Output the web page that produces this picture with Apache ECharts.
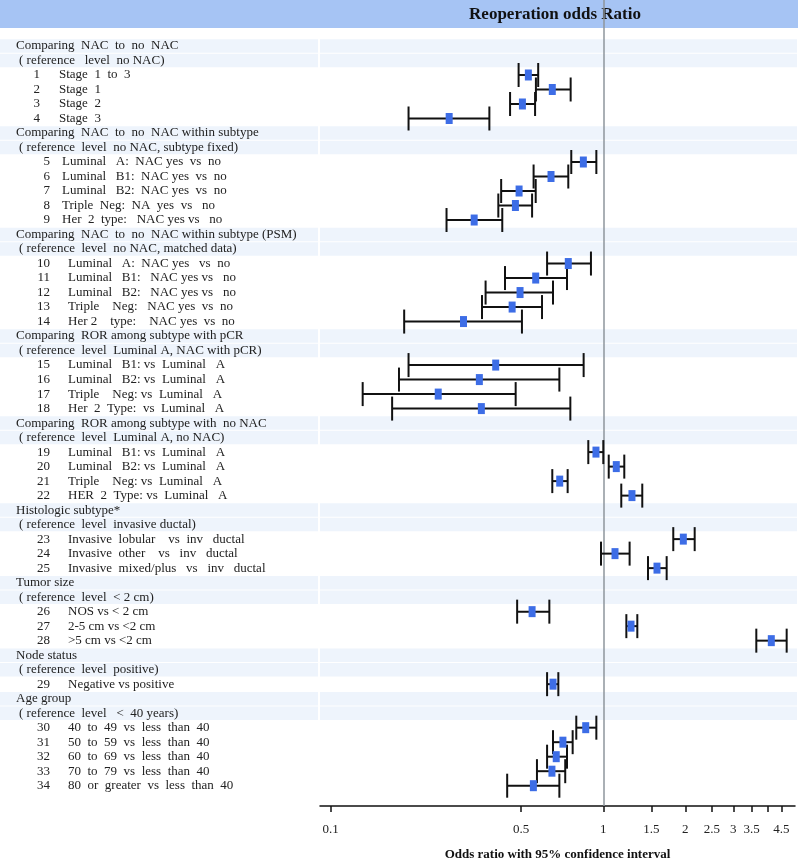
<!DOCTYPE html>
<html>
<head>
<meta charset="utf-8">
<script src="https://cdn.jsdelivr.net/npm/echarts@6/dist/echarts.min.js"></script>
<style>html,body{margin:0;padding:0;background:#fff}#c{width:798px;height:862px}</style>
</head>
<body>
<div id="c"></div>
<script>
const chartTitle = 'Reoperation odds Ratio';
const axisTitle = 'Odds ratio with 95% confidence interval';

const sectionTitles = [
  'Comparing  NAC  to  no  NAC',
  'Comparing  NAC  to  no  NAC within subtype',
  'Comparing  NAC  to  no  NAC within subtype (PSM)',
  'Comparing  ROR among subtype with pCR',
  'Comparing  ROR among subtype with  no NAC',
  'Histologic subtype*',
  'Tumor size',
  'Node status',
  'Age group'
];
const sectionRefs = [
  '( reference   level  no NAC)',
  '( reference  level  no NAC, subtype fixed)',
  '( reference  level  no NAC, matched data)',
  '( reference  level  Luminal A, NAC with pCR)',
  '( reference  level  Luminal A, no NAC)',
  '( reference  level  invasive ductal)',
  '( reference  level  < 2 cm)',
  '( reference  level  positive)',
  '( reference  level   <  40 years)'
];
const sectionSizes = [4, 5, 5, 4, 4, 3, 3, 1, 5];

const itemLabels = [
  'Stage  1  to  3', 'Stage  1', 'Stage  2', 'Stage  3',
  'Luminal   A:  NAC yes  vs  no', 'Luminal   B1:  NAC yes  vs  no', 'Luminal   B2:  NAC yes  vs  no',
  'Triple  Neg:  NA  yes  vs   no', 'Her  2  type:   NAC yes vs   no',
  'Luminal   A:  NAC yes   vs  no', 'Luminal   B1:   NAC yes vs   no', 'Luminal   B2:   NAC yes vs   no',
  'Triple    Neg:   NAC yes  vs  no', 'Her 2    type:    NAC yes  vs  no',
  'Luminal   B1: vs  Luminal   A', 'Luminal   B2: vs  Luminal   A', 'Triple    Neg: vs  Luminal   A',
  'Her  2  Type:  vs  Luminal   A',
  'Luminal   B1: vs  Luminal   A', 'Luminal   B2: vs  Luminal   A', 'Triple    Neg: vs  Luminal   A',
  'HER  2  Type: vs  Luminal   A',
  'Invasive  lobular    vs  inv   ductal', 'Invasive  other    vs   inv   ductal',
  'Invasive  mixed/plus   vs   inv   ductal',
  'NOS vs < 2 cm', '2-5 cm vs <2 cm', '>5 cm vs <2 cm',
  'Negative vs positive',
  '40  to  49  vs  less  than  40', '50  to  59  vs  less  than  40', '60  to  69  vs  less  than  40',
  '70  to  79  vs  less  than  40', '80  or  greater  vs  less  than  40'
];

const oddsRatio = [0.531, 0.650, 0.505, 0.272,
  0.845, 0.643, 0.491, 0.476, 0.336,
  0.744, 0.565, 0.495, 0.463, 0.307,
  0.403, 0.351, 0.248, 0.357,
  0.940, 1.116, 0.692, 1.274,
  1.966, 1.104, 1.574,
  0.548, 1.264, 4.134,
  0.654,
  0.862, 0.711, 0.672, 0.648, 0.554];
const ciLower = [0.489, 0.566, 0.455, 0.193,
  0.763, 0.555, 0.422, 0.412, 0.266,
  0.622, 0.436, 0.370, 0.359, 0.186,
  0.193, 0.178, 0.131, 0.168,
  0.881, 1.047, 0.650, 1.164,
  1.806, 0.981, 1.459,
  0.483, 1.215, 3.642,
  0.622,
  0.796, 0.654, 0.622, 0.571, 0.444];
const ciUpper = [0.577, 0.759, 0.562, 0.382,
  0.943, 0.744, 0.565, 0.548, 0.426,
  0.901, 0.736, 0.654, 0.596, 0.503,
  0.847, 0.690, 0.477, 0.757,
  1.000, 1.194, 0.740, 1.390,
  2.164, 1.249, 1.708,
  0.634, 1.333, 4.707,
  0.684,
  0.943, 0.772, 0.736, 0.725, 0.690];

const tickValues = [0.1, 0.5, 1, 1.5, 2, 2.5, 3, 3.5, 4, 4.5];
const tickLabelValues = [0.1, 0.5, 1, 1.5, 2, 2.5, 3, 3.5, 4.5];
const referenceValue = 1;

// build rows
const rows = [];
let itemIdx = 0;
sectionSizes.forEach((n, s) => {
  rows.push({ kind: 'title', text: sectionTitles[s] });
  rows.push({ kind: 'ref', text: sectionRefs[s] });
  for (let k = 0; k < n; k++) {
    rows.push({ kind: 'item', num: itemIdx + 1, text: itemLabels[itemIdx], item: itemIdx });
    itemIdx++;
  }
});
const labelData = rows.map((r, i) => [referenceValue, i]);
const ciData = [];
rows.forEach((r, i) => {
  if (r.kind === 'item') ciData.push([ciLower[r.item], ciUpper[r.item], oddsRatio[r.item], i]);
});

const FONT = '"Liberation Serif", "Times New Roman", serif';
const chart = echarts.init(document.getElementById('c'), null, { renderer: 'canvas' });

function renderLabel(params, api) {
  const r = rows[params.dataIndex];
  const y = api.coord([referenceValue, params.dataIndex])[1];
  const rowH = api.size([0, 1])[1];
  const children = [];
  if (r.kind !== 'item') {
    children.push({ type: 'rect', shape: { x: 0, y: y - rowH / 2 + 0.5, width: 318, height: rowH - 1 }, style: { fill: '#eef4fc' }, z2: 0 });
    children.push({ type: 'rect', shape: { x: 320, y: y - rowH / 2 + 0.5, width: 477, height: rowH - 1 }, style: { fill: '#eef4fc' }, z2: 0 });
    children.push({ type: 'text', style: { text: r.text, x: r.kind === 'title' ? 16 : 19, y: y, font: '13px ' + FONT, fill: '#222', textAlign: 'left', textVerticalAlign: 'middle' }, z2: 5 });
  } else {
    const numRight = r.num <= 4 ? 40 : 50;
    const textLeft = r.num <= 4 ? 59 : (r.num <= 9 ? 62 : 68);
    children.push({ type: 'text', style: { text: String(r.num), x: numRight, y: y, font: '13px ' + FONT, fill: '#222', textAlign: 'right', textVerticalAlign: 'middle' }, z2: 5 });
    children.push({ type: 'text', style: { text: r.text, x: textLeft, y: y, font: '13px ' + FONT, fill: '#222', textAlign: 'left', textVerticalAlign: 'middle' }, z2: 5 });
  }
  return { type: 'group', children };
}

function renderCI(params, api) {
  const lo = api.coord([api.value(0), api.value(3)]);
  const hi = api.coord([api.value(1), api.value(3)]);
  const mid = api.coord([api.value(2), api.value(3)]);
  const capH = 12;
  const ls = { stroke: '#111', lineWidth: 2 };
  return {
    type: 'group',
    children: [
      { type: 'line', shape: { x1: lo[0], y1: lo[1], x2: hi[0], y2: hi[1] }, style: ls },
      { type: 'line', shape: { x1: lo[0], y1: lo[1] - capH, x2: lo[0], y2: lo[1] + capH }, style: ls },
      { type: 'line', shape: { x1: hi[0], y1: hi[1] - capH, x2: hi[0], y2: hi[1] + capH }, style: ls },
      { type: 'rect', shape: { x: mid[0] - 3.5, y: mid[1] - 5.5, width: 7, height: 11 }, style: { fill: '#3d6de6' }, z2: 10 }
    ]
  };
}

const option = {
  animation: false,
  backgroundColor: '#fff',
  grid: { left: 320, right: 3, top: 0, bottom: 56, outerBoundsMode: 'none', containLabel: false },
  xAxis: {
    type: 'log',
    logBase: 10,
    min: 0.09135,
    max: 5.05,
    name: axisTitle,
    nameLocation: 'middle',
    nameGap: 42,
    nameTextStyle: { fontFamily: FONT, fontSize: 13, fontWeight: 'bold', color: '#111' },
    axisLine: { show: true, onZero: false, lineStyle: { color: '#111', width: 1.5 } },
    axisTick: { show: true, length: 6, customValues: tickValues, lineStyle: { color: '#111', width: 1.5 } },
    axisLabel: {
      customValues: tickLabelValues,
      margin: 17,
      fontFamily: FONT, fontSize: 13, color: '#222',
      formatter: v => String(Math.round(v * 10) / 10)
    },
    splitLine: { show: false },
    minorTick: { show: false }
  },
  yAxis: {
    type: 'value',
    inverse: true,
    min: -3.17,
    max: 52.4,
    show: false
  },
  graphic: [
    { type: 'rect', shape: { x: 0, y: 0, width: 798, height: 28 }, style: { fill: '#a6c4f4' }, z: -10, silent: true },
    { type: 'text', style: { text: chartTitle, x: 555, y: 15, font: 'bold 17px ' + FONT, fill: '#111', textAlign: 'center', textVerticalAlign: 'middle' }, z: 1 }
  ],
  series: [
    {
      type: 'custom',
      name: 'labels',
      data: labelData,
      encode: { x: 0, y: 1 },
      renderItem: renderLabel,
      clip: false,
      silent: true,
      z: 1
    },
    {
      type: 'custom',
      name: 'ci',
      data: ciData,
      encode: { x: [0, 1, 2], y: 3 },
      renderItem: renderCI,
      clip: false,
      z: 5,
      markLine: {
        silent: true,
        symbol: 'none',
        label: { show: false },
        lineStyle: { color: '#8e969c', width: 1.5, type: 'solid' },
        data: [{ xAxis: referenceValue }]
      }
    }
  ]
};
chart.setOption(option);
</script>
</body>
</html>
